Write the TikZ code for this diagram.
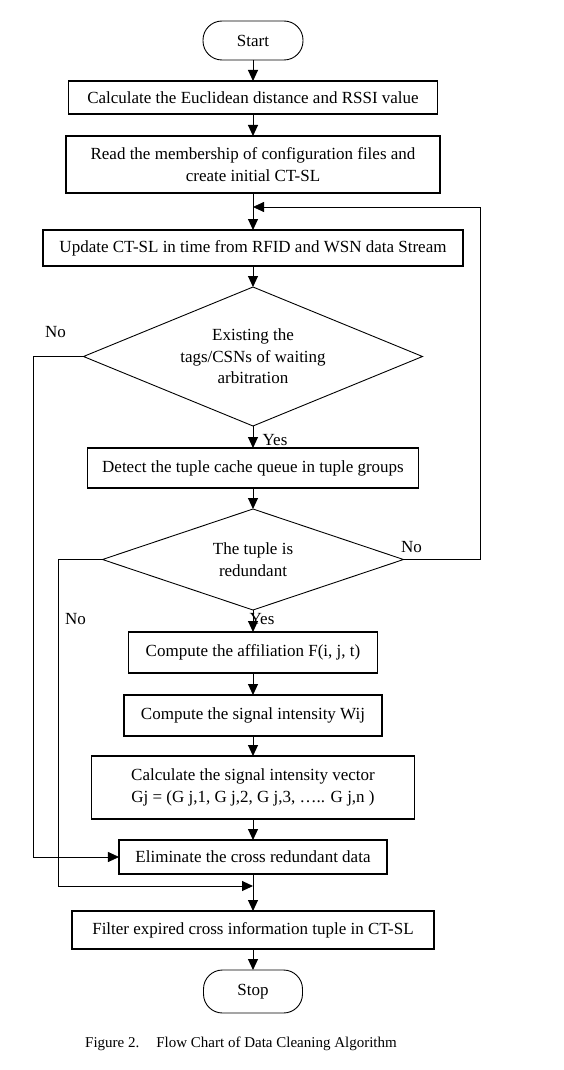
\documentclass[tikz,border=0pt]{standalone}
\usepackage{fontspec}
\setmainfont{Liberation Serif}
\usepackage{tikz}
\usetikzlibrary{positioning, arrows.meta, shapes.geometric}
\tikzset{
block/.style={
  draw, 
  rectangle, 
  line width=1.4pt,
  inner sep=2pt, outer sep=0pt, align=center,
  font=\fontsize{17}{21.5}\selectfont
  }, 
terminal/.style={
  draw, 
  rectangle, rounded corners=19pt,
  line width=0.9pt,
  inner sep=2pt, outer sep=0pt, align=center,
  font=\fontsize{17}{21.5}\selectfont
  },
decision/.style={
  draw, 
  diamond, 
  line width=0.9pt,
  inner sep=0pt, outer sep=0pt, align=center,
  font=\fontsize{17}{21.5}\selectfont
  },
tag/.style={font=\fontsize{17}{21.5}\selectfont, inner sep=0pt},
line/.style={-{Triangle[length=11pt,width=10pt]}, line width=1pt},
loop/.style={line, line width=0.8pt}
}
\begin{document}
\begin{tikzpicture}[x=1pt, y=1pt]
\useasboundingbox (-253,40.5) rectangle (310,-1029.5);

\node[terminal, minimum width=100pt, minimum height=39pt]	(start)	at (0,0)	{Start};
\node[block, minimum width=369pt, minimum height=33pt]	(calc)		[below=21pt of start]	{Calculate the Euclidean distance and RSSI value};
\node[block, minimum width=374pt, minimum height=57pt]	(read)		[below=22pt of calc]	{Read the membership of configuration files and \\ create initial CT-SL};
\node[block, minimum width=420pt, minimum height=36pt]	(update)	[below=37pt of read]	{Update CT-SL in time from RFID and WSN data Stream};
\node[decision, aspect=2.44, minimum width=339pt, minimum height=139pt]	(exist)	[below=21pt of update]	{Existing the \\ tags/CSNs of waiting \\ arbitration};
\node[block, minimum width=331pt, minimum height=40pt]	(detect)	[below=22pt of exist]	{Detect the tuple cache queue in tuple groups};
\node[decision, aspect=2.98, minimum width=301pt, minimum height=101pt]	(redund)	[below=21pt of detect]	{The tuple is \\ redundant};
\node[block, minimum width=249pt, minimum height=41pt]	(affil)		[below=22pt of redund]	{Compute the affiliation F(i, j, t)};
\node[block, minimum width=258pt, minimum height=41pt]	(wij)		[below=22pt of affil]	{Compute the signal intensity Wij};
\node[block, minimum width=323pt, minimum height=63pt]	(vector)	[below=20pt of wij]	{Calculate the signal intensity vector \\ Gj = (G j,1, G j,2, G j,3, ….. G j,n )};
\node[block, minimum width=268pt, minimum height=34pt]	(elim)		[below=21pt of vector]	{Eliminate the cross redundant data};
\node[block, minimum width=362pt, minimum height=38pt]	(filter)	[below=37pt of elim]	{Filter expired cross information tuple in CT-SL};
\node[terminal, minimum width=99pt, minimum height=43pt]	(stop)		[below=21pt of filter]	{Stop};
\node[inner sep=0pt, font=\fontsize{15}{18}\selectfont]	(caption)	[below=24pt of stop, xshift=-12pt]	{Figure 2.\hspace{12pt} Flow Chart of Data Cleaning Algorithm};

\coordinate[below=14pt of read]	(loopin);
\coordinate[below=12pt of elim]	(mergein);

\node[tag]	(yesexist)	at ([xshift=22pt, yshift=-14pt]exist.south)	{Yes};
\node[tag]	(noexist)	at ([xshift=-28pt, yshift=24pt]exist.west)	{No};
\node[tag]	(yesredund)	at ([xshift=9pt, yshift=-9pt]redund.south)	{Yes};
\node[tag]	(noleft)	at ([xshift=-27pt, yshift=-60pt]redund.west)	{No};
\node[tag]	(noright)	at ([xshift=8pt, yshift=12pt]redund.east)	{No};

\draw[line] (start.south) -- (calc.north);
\draw[line] (calc.south) -- (read.north);
\draw[line] (read.south) -- (update.north);
\draw[line] (update.south) -- (exist.north);
\draw[line] (exist.south) -- (detect.north);
\draw[line] (detect.south) -- (redund.north);
\draw[line] (redund.south) -- (affil.north);
\draw[line] (affil.south) -- (wij.north);
\draw[line] (wij.south) -- (vector.north);
\draw[line] (vector.south) -- (elim.north);
\draw[line] (elim.south) -- (filter.north);
\draw[line] (filter.south) -- (stop.north);
\draw[loop] (redund.east) -- ++(77pt,0) |- (loopin);
\draw[loop] (exist.west) -- ++(-50pt,0) |- (elim.west);
\draw[line] (redund.west) -- ++(-44pt,0) |- (mergein);
\end{tikzpicture}
\end{document}
